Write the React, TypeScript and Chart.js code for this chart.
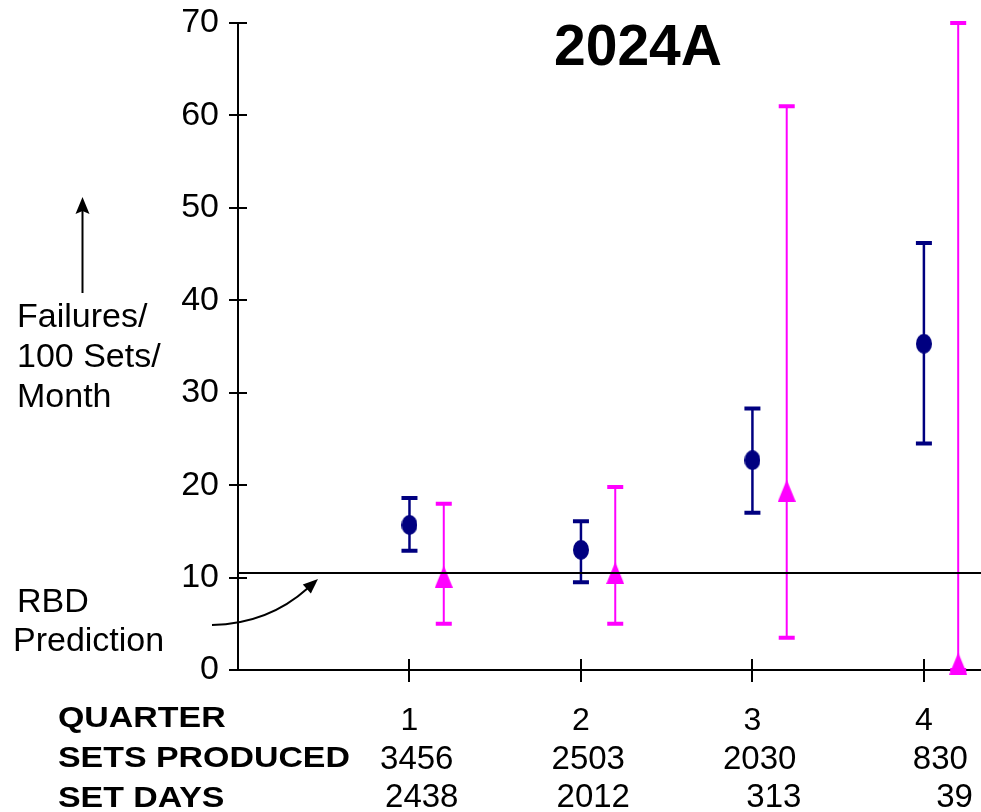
import React, { useEffect, useRef } from 'react';
import { Chart, registerables } from 'chart.js';

Chart.register(...registerables);

// ---------- data ----------
const quarters = [1, 2, 3, 4];
const quarterLabels = ['1', '2', '3', '4'];
const setsProduced = ['3456', '2503', '2030', '830'];
const setDays = ['2438', '2012', '313', '39'];

const observedRate = [15.7, 13.0, 22.7, 35.3];
const observedLow = [12.9, 9.5, 17.0, 24.5];
const observedHigh = [18.6, 16.1, 28.3, 46.2];

const otherRate = [10.1, 10.5, 19.4, 0.7];
const otherLow = [5.0, 5.0, 3.5, 0];
const otherHigh = [18.0, 19.8, 61.0, 70];

const rbdPrediction = 10.5;
const yTicks = [0, 10, 20, 30, 40, 50, 60, 70];

const titleText = '2024A';
const rowLabels = ['QUARTER', 'SETS PRODUCED', 'SET DAYS'];
const yAxisLabel = ['Failures/', '100 Sets/', 'Month'];
const rbdLabel = ['RBD', 'Prediction'];

// ---------- style / layout ----------
const NAVY = '#000080';
const MAGENTA = '#FF00FF';
const FONT = '"Liberation Sans", Arial, Helvetica, sans-serif';
const X_MAX = 4.333;
const SERIES_OFFSET = 0.2;

function makeEllipse(w: number, h: number, color: string) {
  const c = document.createElement('canvas');
  c.width = w;
  c.height = h;
  const g = c.getContext('2d')!;
  g.fillStyle = color;
  g.beginPath();
  g.ellipse(w / 2, h / 2, w / 2, h / 2, 0, 0, Math.PI * 2);
  g.fill();
  return c;
}

function makeTriangle(w: number, h: number, color: string) {
  const c = document.createElement('canvas');
  c.width = w;
  c.height = h;
  const g = c.getContext('2d')!;
  g.fillStyle = color;
  g.beginPath();
  g.moveTo(w / 2, 0);
  g.lineTo(w, h);
  g.lineTo(0, h);
  g.closePath();
  g.fill();
  return c;
}

function drawText(
  ctx: CanvasRenderingContext2D,
  s: string,
  x: number,
  y: number,
  font: string,
  align: CanvasTextAlign = 'left',
  sx = 1
) {
  ctx.save();
  ctx.font = font;
  ctx.fillStyle = '#000';
  ctx.textAlign = align;
  ctx.textBaseline = 'alphabetic';
  ctx.translate(x, y);
  ctx.scale(sx, 1);
  ctx.fillText(s, 0, 0);
  ctx.restore();
}

const errorBarsPlugin = {
  id: 'errorBars',
  beforeDatasetsDraw(chart: any) {
    const { ctx, scales } = chart;
    const xs = scales.x;
    const ys = scales.y;
    const draw = (xv: number[], lows: number[], highs: number[], color: string, lw: number) => {
      ctx.save();
      ctx.strokeStyle = color;
      xv.forEach((v, i) => {
        const px = xs.getPixelForValue(v);
        const pl = ys.getPixelForValue(lows[i]);
        const ph = ys.getPixelForValue(highs[i]);
        ctx.lineWidth = lw;
        ctx.beginPath();
        ctx.moveTo(px, pl);
        ctx.lineTo(px, ph);
        ctx.stroke();
        ctx.lineWidth = 4;
        ctx.beginPath();
        ctx.moveTo(px - 8, ph);
        ctx.lineTo(px + 8, ph);
        ctx.moveTo(px - 8, pl);
        ctx.lineTo(px + 8, pl);
        ctx.stroke();
      });
      ctx.restore();
    };
    draw(quarters, observedLow, observedHigh, NAVY, 2.5);
    draw(quarters.map((q) => q + SERIES_OFFSET), otherLow, otherHigh, MAGENTA, 2);
  },
};

const annotationsPlugin = {
  id: 'annotations',
  afterDraw(chart: any) {
    const { ctx, scales, chartArea } = chart;
    const xs = scales.x;
    const ys = scales.y;

    // crossing tick marks
    ctx.save();
    ctx.strokeStyle = '#000';
    ctx.lineWidth = 2;
    ctx.beginPath();
    yTicks.forEach((v) => {
      const py = Math.round(ys.getPixelForValue(v));
      ctx.moveTo(chartArea.left - 9, py);
      ctx.lineTo(chartArea.left + 9, py);
    });
    quarters.forEach((q) => {
      const px = Math.round(xs.getPixelForValue(q));
      ctx.moveTo(px, chartArea.bottom - 11);
      ctx.lineTo(px, chartArea.bottom + 12);
    });
    ctx.stroke();
    ctx.restore();

    // title
    drawText(ctx, titleText, 638, 65, `bold 57px ${FONT}`, 'center');

    // y axis label with arrow
    const yLabelBase = [327, 367, 407];
    yAxisLabel.forEach((s, i) => drawText(ctx, s, 17, yLabelBase[i], `34px ${FONT}`));
    ctx.save();
    ctx.strokeStyle = '#000';
    ctx.fillStyle = '#000';
    ctx.lineWidth = 2;
    ctx.beginPath();
    ctx.moveTo(82.5, 293);
    ctx.lineTo(82.5, 208);
    ctx.stroke();
    ctx.beginPath();
    ctx.moveTo(82.5, 197);
    ctx.lineTo(89.5, 214);
    ctx.lineTo(82.5, 211);
    ctx.lineTo(75.5, 214);
    ctx.closePath();
    ctx.fill();
    ctx.restore();

    // RBD label with curved arrow
    drawText(ctx, rbdLabel[0], 17, 612, `34px ${FONT}`);
    drawText(ctx, rbdLabel[1], 13, 651, `34px ${FONT}`);
    ctx.save();
    ctx.strokeStyle = '#000';
    ctx.fillStyle = '#000';
    ctx.lineWidth = 2;
    ctx.beginPath();
    ctx.moveTo(212, 625);
    ctx.quadraticCurveTo(268, 624, 308, 588);
    ctx.stroke();
    const tipX = 318;
    const tipY = 579;
    const ang = Math.atan2(tipY - 624, tipX - 268);
    const len = 15;
    const hw = 6;
    const bx = tipX - len * Math.cos(ang);
    const by = tipY - len * Math.sin(ang);
    ctx.beginPath();
    ctx.moveTo(tipX, tipY);
    ctx.lineTo(bx + hw * Math.sin(ang), by - hw * Math.cos(ang));
    ctx.lineTo(bx - hw * Math.sin(ang), by + hw * Math.cos(ang));
    ctx.closePath();
    ctx.fill();
    ctx.restore();

    // bottom table
    const labelBase = [727, 767, 807];
    rowLabels.forEach((s, i) => drawText(ctx, s, 58, labelBase[i], `bold 30px ${FONT}`, 'left', 1.13));
    quarters.forEach((q, i) => {
      const px = xs.getPixelForValue(q);
      drawText(ctx, setsProduced[i], px + 44, 769, `33px ${FONT}`, 'right');
      drawText(ctx, setDays[i], px + 49, 807, `33px ${FONT}`, 'right');
    });
  },
};

export default function App() {
  const canvasRef = useRef<HTMLCanvasElement | null>(null);

  useEffect(() => {
    if (!canvasRef.current) return;
    const ellipse = makeEllipse(16, 20, NAVY);
    const triangle = makeTriangle(18, 22, MAGENTA);

    const chart = new Chart(canvasRef.current, {
      type: 'scatter',
      data: {
        datasets: [
          {
            type: 'line',
            label: 'RBD Prediction',
            data: [
              { x: 0, y: rbdPrediction },
              { x: X_MAX, y: rbdPrediction },
            ],
            borderColor: '#000',
            borderWidth: 2,
            pointRadius: 0,
            order: 0,
          } as any,
          {
            label: 'Observed',
            data: quarters.map((q, i) => ({ x: q, y: observedRate[i] })),
            pointStyle: ellipse as any,
            pointRadius: 10,
            backgroundColor: NAVY,
            borderColor: NAVY,
            order: 1,
            clip: false as any,
          },
          {
            label: 'Other',
            data: quarters.map((q, i) => ({ x: q + SERIES_OFFSET, y: otherRate[i] })),
            pointStyle: triangle as any,
            pointRadius: 10,
            backgroundColor: MAGENTA,
            borderColor: MAGENTA,
            order: 2,
            clip: false as any,
          },
        ],
      },
      options: {
        responsive: false,
        animation: false,
        layout: { autoPadding: false, padding: { top: 23, right: 0, left: 0, bottom: 0 } },
        plugins: {
          legend: { display: false },
          tooltip: { enabled: false },
        },
        scales: {
          x: {
            type: 'linear',
            min: 0,
            max: X_MAX,
            afterBuildTicks: (axis: any) => {
              axis.ticks = quarters.map((v) => ({ value: v }));
            },
            afterFit: (s: any) => {
              s.height = 142;
              s.paddingLeft = 0;
              s.paddingRight = 0;
              s.paddingTop = 0;
              s.paddingBottom = 0;
            },
            grid: { display: false },
            border: { display: true, color: '#000', width: 2 },
            ticks: {
              autoSkip: false,
              maxRotation: 0,
              color: '#000',
              padding: 24,
              font: { family: FONT, size: 32 },
              callback: (v: any) => {
                const idx = quarters.indexOf(Number(v));
                return idx >= 0 ? quarterLabels[idx] : '';
              },
            },
          },
          y: {
            type: 'linear',
            min: 0,
            max: 70,
            afterBuildTicks: (axis: any) => {
              axis.ticks = yTicks.map((v) => ({ value: v }));
            },
            afterFit: (s: any) => {
              s.width = 238;
              s.paddingLeft = 0;
              s.paddingRight = 0;
              s.paddingTop = 0;
              s.paddingBottom = 0;
            },
            grid: { display: false },
            border: { display: true, color: '#000', width: 2 },
            ticks: {
              color: '#000',
              padding: 11,
              font: { family: FONT, size: 34 },
            },
          },
        },
      } as any,
      plugins: [errorBarsPlugin, annotationsPlugin],
    });
    return () => chart.destroy();
  }, []);

  return (
    <div style={{ position: 'absolute', left: 0, top: 0, width: 981, height: 812, background: '#fff' }}>
      <canvas ref={canvasRef} width={981} height={812} style={{ display: 'block' }} />
    </div>
  );
}
